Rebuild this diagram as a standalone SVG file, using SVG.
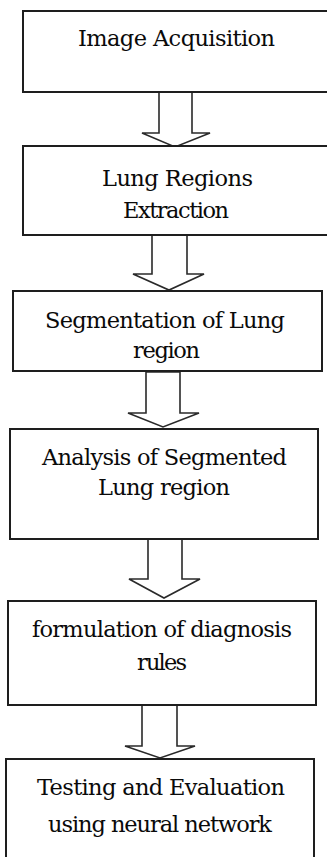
<svg xmlns="http://www.w3.org/2000/svg" width="327" height="857" viewBox="0 0 327 857">
<style>
.box{fill:#fff;stroke:#1e1e1e;stroke-width:2}
.arr{fill:#fff;stroke:#2a2a2a;stroke-width:1.6;stroke-linejoin:miter}
.t{font-family:"DejaVu Serif","Liberation Serif",serif;font-size:22.5px;fill:#0a0a0a;text-anchor:middle}
</style>
<rect width="327" height="857" fill="#fff"/>
<g id="connectors">
<polygon class="arr" points="159,92 192,92 192,133 210,133 175,147 142,133 159,133"/>
<polygon class="arr" points="152,235 187,235 187,274 204,274 169,290 133,274 152,274"/>
<polygon class="arr" points="146,372 180,372 180,413 199,413 163,427 128,413 146,413"/>
<polygon class="arr" points="148,539 182,539 182,579 200,579 164,598 129,579 148,579"/>
<polygon class="arr" points="142,705 177,705 177,746 195,746 160,758 125,746 142,746"/>
</g>
<g id="n1">
<rect class="box" x="23" y="11" width="320" height="81"/>
<text class="t" x="176.5" y="46" textLength="197" lengthAdjust="spacing">Image Acquisition</text>
</g>
<g id="n2">
<rect class="box" x="23" y="146" width="320" height="89"/>
<text class="t" x="177.5" y="186" textLength="151" lengthAdjust="spacing">Lung Regions</text>
<text class="t" x="176" y="218" textLength="106" lengthAdjust="spacing">Extraction</text>
</g>
<g id="n3">
<rect class="box" x="13" y="291" width="309" height="80"/>
<text class="t" x="165" y="328" textLength="240" lengthAdjust="spacing">Segmentation of Lung</text>
<text class="t" x="166.5" y="358" textLength="67" lengthAdjust="spacing">region</text>
</g>
<g id="n4">
<rect class="box" x="10" y="429" width="308" height="110"/>
<text class="t" x="164.5" y="465" textLength="245" lengthAdjust="spacing">Analysis of Segmented</text>
<text class="t" x="164" y="495" textLength="132" lengthAdjust="spacing">Lung region</text>
</g>
<g id="n5">
<rect class="box" x="8" y="601" width="308" height="104"/>
<text class="t" x="162" y="637" textLength="260" lengthAdjust="spacing">formulation of diagnosis</text>
<text class="t" x="162" y="670" textLength="50" lengthAdjust="spacing">rules</text>
</g>
<g id="n6">
<rect class="box" x="6" y="759" width="308" height="120"/>
<text class="t" x="161" y="795" textLength="248" lengthAdjust="spacing">Testing and Evaluation</text>
<text class="t" x="160" y="832" textLength="224" lengthAdjust="spacing">using neural network</text>
</g>
</svg>
